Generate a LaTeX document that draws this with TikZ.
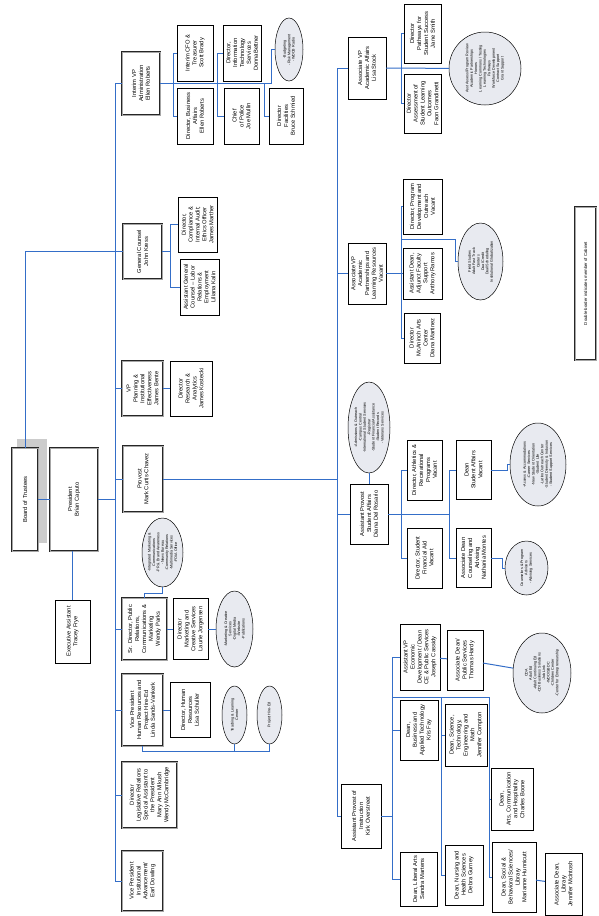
\documentclass[tikz,border=0pt]{standalone}
\usepackage{fontspec}
\setmainfont{Liberation Sans}
\usetikzlibrary{shapes.geometric,calc}
\definecolor{lnblue}{RGB}{52,110,200}
\definecolor{ellfill}{RGB}{232,234,240}
\begin{document}
\begin{tikzpicture}[x=1pt,y=-1pt,
  link/.style={draw=lnblue, line width=1pt},
  box/.style={draw=black, line width=0.6pt, fill=white, rotate=90, align=center, font=\fontsize{5.8}{6.9}\selectfont, inner sep=0.5pt, outer sep=0pt},
  cab/.style={box, draw=black!85, double=black!35, double distance=0.8pt, line width=0.7pt},
  ell/.style={ellipse, draw=black, line width=0.5pt, fill=ellfill, rotate=90, inner sep=0pt, outer sep=0pt},
  etext/.style={rotate=90, align=center, font=\fontsize{3.7}{4.4}\selectfont, inner sep=0pt},
  sz/.style 2 args={minimum height=#1pt, minimum width=#2pt},
]
\useasboundingbox (0,0) rectangle (599,916);
\fill[white] (0,0) rectangle (599,916);

% ---------- top level ----------
\fill[black!20] (17,439) rectangle (47,543);
\node[cab, sz={26}{103}] (board) at (25,499.5) {Board of Trustees};
\node[cab, sz={48}{103}] (pres) at (74,499.5) {President\\Brian Caputo};
\node[box, sz={35}{63}] (exec) at (72.5,631.5) {Executive Assistant\\Tracey Frye};

% ---------- direct reports ----------
\node[cab, sz={38}{63}] (ivp) at (141,83.5) {Interim VP\\Administration\\Ellen Roberts};
\node[cab, sz={39}{55}] (gc) at (142.5,251.5) {General Counsel\\John Kress};
\node[cab, sz={41}{55}] (vpp) at (142.5,388.5) {VP\\Planning \&\\Institutional\\Effectiveness\\James Bente};
\node[cab, sz={40}{66}] (prov) at (143,479) {Provost\\Mark Curtis-Chavez};
\node[cab, sz={45}{62}] (pr) at (144.5,629) {Sr. Director, Public\\Relations,\\Communications \&\\Marketing\\Wendy Parks};
\node[cab, sz={41}{72}] (hr) at (142.5,710) {Vice President\\Human Resources and\\Project Hire-Ed\\Linda Sands-Vankerk};
\node[cab, sz={55}{66}] (leg) at (149.5,795) {Director\\Legislative Relations\\Special Assistant to\\the President\\Mary Ann Mikush\\Wendy McCambridge};
\node[cab, sz={41}{60}] (ia) at (142.5,881) {Vice President\\Institutional\\Advancement/\\Earl Dowling};

% ---------- administration ----------
\node[box, sz={36}{56}] (cfo) at (195,53) {Interim CFO \&\\Treasurer\\Scott Brady};
\node[box, sz={36}{56}] (ba) at (195,116) {Director, Business\\Affairs\\Ellen Roberts};
\node[box, sz={38}{56}] (its) at (242,53) {Director,\\Information\\Technology\\Services\\DonnaBettner};
\node[box, sz={35}{56}] (pol) at (241.5,116) {Chief\\of Police\\Joe Mullin};
\node[box, sz={34}{56}] (fac) at (286,116) {Director\\Facilities\\Bruce Schmied};
\node[ell, sz={28}{63}] (e1) at (289,49.5) {};
\node[etext] at (e1) {-Budgeting\\-Risk Management\\-WDCB Radio};

% ---------- general counsel ----------
\node[box, sz={39}{55}] (comp) at (197.5,224.5) {Director,\\Compliance \&\\Internal Audit;\\Ethics Officer\\James Marther};
\node[box, sz={39}{56}] (agc) at (199.5,287) {Assistant General\\Counsel -- Labor\\Relations \&\\Employment\\Liliana Kalin};

% ---------- planning ----------
\node[box, sz={42}{55}] (ra) at (191,388.5) {Director\\Research \&\\Analytics\\James Kostecki};

% ---------- PR ----------
\node[ell, sz={41}{69}] (e2) at (162.5,552.5) {};
\node[etext] at (e2) {-Integrated Marketing \&\\Communications\\-PR \& Brand Awareness\\-News Bureau\\-Community Relations\\-Multimedia Services\\-FOIA Office};
\node[box, sz={35}{61}] (mcs) at (190.5,629) {Director\\Marketing and\\Creative Services\\Laurie Jorgensen};
\node[ell, sz={37}{76}] (e3) at (234.5,629) {};
\node[etext] at (e3) {-Marketing \& Creative\\Services\\-Digital Media\\-Website\\-Publications};

% ---------- HR ----------
\node[box, sz={40}{55}] (dhr) at (190,710) {Director, Human\\Resources\\Lisa Schuller};
\node[ell, sz={25}{58}] (e4) at (234.5,715) {};
\node[etext] at (e4) {Teaching \& Learning\\Center};
\node[ell, sz={25}{58}] (e5) at (269.5,715) {};
\node[etext] at (e5) {Project Hire-Ed};

% ---------- academic affairs ----------
\node[box, sz={38}{62}] (avpa) at (367,68) {Associate VP\\Academic Affairs\\Lisa Stock};
\node[box, sz={37}{59}] (pss) at (422.5,33.5) {Director\\Pathways for\\Student Success\\Jane Smith};
\node[box, sz={37}{59}] (asl) at (422.5,103.5) {Director\\Assessment of\\Student Learning\\Outcomes\\Faon Grandinetti};
\node[ell, sz={72}{73}] (e6) at (485,68.5) {};
\node[etext] at (e6) {Asst Assess/Program Review\\Academic Partnerships\\Honors\\Learning Commons / Testing\\Learning Technologies\\Pathways\\Workforce Development\\Contract Support\\Grant Support};

\node[box, sz={38}{61}] (avpp) at (367,273.5) {Associate VP\\Academic\\Partnerships and\\Learning Resources\\Vacant};
\node[box, sz={39}{55}] (dpd) at (422.5,206.5) {Director, Program\\Development and\\Outreach\\Vacant};
\node[box, sz={39}{51}] (ads) at (422.5,273.5) {Assistant Dean,\\Adjunct Faculty\\Support\\Anthony Ramos};
\node[box, sz={36}{50}] (mac) at (422,338) {Director\\McAninch Arts\\Center\\Diana Martinez};
\node[ell, sz={45}{77}] (e7) at (480.5,261.5) {};
\node[etext] at (e7) {Field Studies\\Adult Fast Track\\Centers\\Dual Credit\\Dual/Scheduling\\Institutional Globalization};

% ---------- student affairs ----------
\node[box, sz={38}{60}] (aps) at (369,514) {Assistant Provost\\Student Affairs\\Diana Del Rosario};
\node[ell, sz={42}{91}] (e8) at (369,427.5) {};
\node[etext] at (e8) {-Admissions \& Outreach\\-Campus Central\\-International Student Services\\-Registrar\\-Student Financial Assistance\\-Student Records\\-Veterans Services};
\node[box, sz={35}{60}] (dath) at (424.5,470) {Director, Athletics \&\\Recreational\\Programs\\Vacant};
\node[box, sz={35}{60}] (dfa) at (424.5,558) {Director, Student\\Financial Aid\\Vacant};
\node[box, sz={35}{59}] (dsa) at (473.5,470) {Dean\\Student Affairs\\Vacant};
\node[box, sz={35}{59}] (adc) at (473.5,558) {Associate Dean\\Counseling and\\Advising\\Nathania Montes};
\node[ell, sz={56}{83}] (e9) at (538,464.5) {};
\node[etext] at (e9) {-Access \& Accommodations\\-Career Services\\-New Student Orientation\\-Student Life\\-Latino Outreach Center\\-Student Diversity \& Inclusion\\-Student Support Services};
\node[ell, sz={43}{54}] (e10) at (526.5,568) {};
\node[etext] at (e10) {Counselors \& Program\\Advisors\\-Advising Services};

% ---------- instruction ----------
\node[box, sz={40}{64}] (api) at (361,816) {Assistant Provost of\\Instruction\\Kirk Overstreet};
\node[box, sz={40}{66}] (aed) at (420,657) {Assistant VP\\Economic\\Development / Dean\\CE \& Public Services\\Joseph Cassidy};
\node[box, sz={38}{60}] (dbat) at (419,730) {Dean,\\Business and\\Applied Technology\\Kris Fay};
\node[box, sz={37}{54}] (dla) at (418.5,879) {Dean, Liberal Arts\\Sandra Martens};
\node[box, sz={36}{60}] (adps) at (465,660) {Associate Dean/\\Public Services\\Thomas Hardy};
\node[box, sz={42}{62}] (dstem) at (466,735) {Dean, Science,\\Technology,\\Engineering and\\Math\\Jennifer Compton};
\node[box, sz={38}{60}] (dnh) at (464,875) {Dean, Nursing and\\Health Sciences\\Debra Gurney};
\node[box, sz={42}{62}] (dach) at (512,799) {Dean,\\Arts, Communication\\and Hospitality\\Charles Boone};
\node[box, sz={44}{70}] (dsbs) at (514,877) {Dean, Social \&\\Behavioral Sciences/\\Library\\Marianne Hunnicutt};
\node[box, sz={37}{62}] (adl) at (563.5,884) {Associate Dean,\\Library\\Jennifer McIntosh};
\node[ell, sz={58}{80}] (e11) at (542,673) {};
\node[etext] at (e11) {CDA\\Adult Ed\\-Adult Continuing Ed\\-CDI Business Solutions\\-Job Link\\-WDO/SBDC\\-Children Center\\-Center for Entrepreneurship};

\node[cab, sz={21}{153}, font=\fontsize{4.3}{5}\selectfont] (legend) at (585.5,283.5) {Double border indicates member of Cabinet};

% ================= connectors =================
\coordinate (T1) at (115,83.5);
\coordinate (T2) at (115,881);
\draw[link] (board) -- (pres);
\draw[link] (board.east) |- (gc);
\draw[link] (pres) -- (pres -| T1);
\draw[link] (pres.west -| exec) -- (exec);
\draw[link] (T1) -- (T2);
\draw[link] (T1) -- (ivp);
\foreach \n in {gc,vpp,prov,pr,hr,leg,ia} \draw[link] (\n -| T1) -- (\n);

% administration
\coordinate (S1) at (173,0);
\coordinate (S2) at (217,0);
\coordinate (S3) at (264,0);
\coordinate (E1) at (271,83.5);
\draw[link] (ivp) -- (E1) |- (e1);
\draw[link] (cfo -| S1) -- (ba -| S1);
\draw[link] (cfo -| S1) -- (cfo);
\draw[link] (ba -| S1) -- (ba);
\draw[link] (its -| S2) -- (pol -| S2);
\draw[link] (its -| S2) -- (its);
\draw[link] (pol -| S2) -- (pol);
\draw[link] (ivp -| S3) -- (fac -| S3) -- (fac);

% general counsel
\coordinate (S4) at (170,0);
\draw[link] (gc) -- (gc -| S4);
\draw[link] (comp -| S4) -- (agc -| S4);
\draw[link] (comp -| S4) -- (comp);
\draw[link] (agc -| S4) -- (agc);

% planning
\draw[link] (vpp) -- (ra);

% PR
\draw[link] (pr) -- (mcs);
\draw[link] (mcs) -- (e3);
\draw[link] (pr.east) -- ++(0,-5) -| (e2);

% HR
\draw[link] (hr) -- (dhr);
\draw[link] (hr.west) -- ++(0,5) coordinate (H1) -- (H1 -| e5) -- (e5);
\draw[link] (H1 -| e4) -- (e4);

% provost
\coordinate (P1) at (337,68);
\coordinate (P2) at (337,816);
\draw[link] (prov) -- (prov -| P1);
\draw[link] (P1) -- (P2);
\foreach \n in {avpa,avpp,aps,api} \draw[link] (\n -| P1) -- (\n);

% academic affairs
\coordinate (S5) at (401,0);
\draw[link] (avpa) -- (e6);
\draw[link] (pss -| S5) -- (asl -| S5);
\draw[link] (pss -| S5) -- (pss);
\draw[link] (asl -| S5) -- (asl);

% partnerships
\draw[link] (avpp) -- (ads);
\draw[link] (dpd -| S5) -- (mac -| S5);
\draw[link] (dpd -| S5) -- (dpd);
\draw[link] (mac -| S5) -- (mac);
\coordinate (F1) at (401,239);
\draw[link] (F1) -- ++(54,0) |- (e7);

% student affairs
\coordinate (S8) at (449,0);
\draw[link] (aps) -- (aps -| S8);
\draw[link] (aps) -- (e8);
\draw[link] (dath -| S5) -- (dfa -| S5);
\draw[link] (dath -| S5) -- (dath);
\draw[link] (dfa -| S5) -- (dfa);
\draw[link] (dsa -| S8) -- (adc -| S8);
\draw[link] (dsa -| S8) -- (dsa);
\draw[link] (adc -| S8) -- (adc);
\draw[link] (dsa.south) -- ++(16,0) |- (e9);
\draw[link] (adc.south) -- ++(11,0) |- (e10);

% instruction
\coordinate (S9) at (392,0);
\coordinate (S10) at (441,0);
\coordinate (S11) at (489,0);
\coordinate (R1) at (392,697);
\draw[link] (api) -- (api -| S9);
\draw[link] (aed -| S9) -- (dla -| S9);
\foreach \n in {aed,dbat,dla} \draw[link] (\n -| S9) -- (\n);
\draw[link] (R1) -- (R1 -| S11);
\draw[link] (R1 -| S10) -- (dnh -| S10);
\foreach \n in {dstem,dnh} \draw[link] (\n -| S10) -- (\n);
\draw[link] (R1 -| S11) -- (dsbs -| S11);
\foreach \n in {dach,dsbs} \draw[link] (\n -| S11) -- (\n);
\draw[link] (aed) -- (adps);
\draw[link] (adps) -- (e11);
\draw[link] (dsbs) -- (adl);
\end{tikzpicture}
\end{document}
